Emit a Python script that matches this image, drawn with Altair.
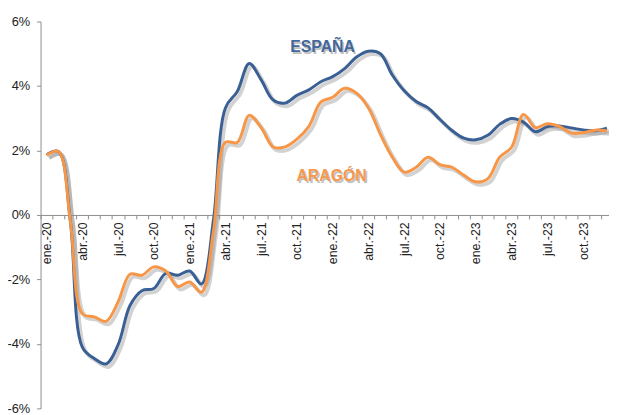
import altair as alt
import pandas as pd

meses_cortos = ["ene.", "feb.", "mar.", "abr.", "may.", "jun.", "jul.", "ago.", "sep.", "oct.", "nov.", "dic."]
anios = ["20", "21", "22", "23"]
meses = [f"{m}-{a}" for a in anios for m in meses_cortos]

espana = [1.87, 1.97, -0.2, -4.1, -4.45, -4.62, -4.03, -2.81, -2.35, -2.28, -1.81, -1.87,
          -1.74, -2.14, -0.15, 3.32, 3.83, 4.70, 4.19, 3.57, 3.47, 3.71, 3.88, 4.13,
          4.29, 4.54, 4.90, 5.08, 5.00, 4.34, 3.85, 3.52, 3.32, 2.96, 2.62, 2.38,
          2.33, 2.47, 2.81, 2.99, 2.88, 2.58, 2.74, 2.76, 2.70, 2.64, 2.61, 2.69]

aragon = [1.85, 1.97, -0.2, -3.06, -3.16, -3.30, -2.70, -1.84, -1.87, -1.61, -1.74, -2.22,
          -2.08, -2.40, -0.50, 2.25, 2.25, 3.09, 2.71, 2.11, 2.11, 2.35, 2.75, 3.50,
          3.65, 3.93, 3.78, 3.32, 2.50, 1.79, 1.33, 1.48, 1.79, 1.56, 1.48, 1.23,
          1.03, 1.12, 1.79, 2.10, 3.12, 2.71, 2.83, 2.75, 2.54, 2.55, 2.63, 2.61]

series = ["ESPAÑA", "ARAGÓN"]
colores = ["#3A5F94", "#F79646"]
colores_texto = ["#43679B", "#F7984D"]
etiqueta_x = [23.15, 23.9]
etiqueta_y = [5.2, 1.22]
y_ticks = [-6, -4, -2, 0, 2, 4, 6]

n = len(meses)
df = pd.DataFrame({
    "i": list(range(n)) * 2,
    "valor": espana + aragon,
    "serie": [series[0]] * n + [series[1]] * n,
})
df_lab = pd.DataFrame({"serie": series, "x": etiqueta_x, "y": etiqueta_y})

W, H = 576, 392
x_dom = [-0.5, 47.17]
half = W / (x_dom[1] - x_dom[0]) / 2

arr = "[" + ",".join(f"'{m}'" for m in meses) + "]"
label_expr = f"datum.value % 3 == 0 ? {arr}[datum.value] : ''"

FONT = "Liberation Sans"
x_scale = alt.Scale(domain=x_dom, nice=False, zero=False)
y_scale = alt.Scale(domain=[-6, 6], nice=False)
col_scale = alt.Scale(domain=series, range=colores)

x_axis = alt.Axis(values=list(range(n)), labelExpr=label_expr, labelAngle=270,
                  labelAlign="right", labelBaseline="middle", tickOffset=-half,
                  labelOffset=half, offset=-H / 2, grid=False, title=None,
                  domainColor="#8c8c8c", tickColor="#8c8c8c", tickSize=4,
                  labelPadding=3, labelFontSize=12.5, labelFont=FONT,
                  labelColor="#222222", labelOverlap=False, labelBound=False,
                  labelFlush=False)
y_axis = alt.Axis(values=y_ticks, labelExpr="datum.value + '%'", grid=False, title=None,
                  domainColor="#8c8c8c", tickColor="#8c8c8c", tickSize=4,
                  labelPadding=7, labelFontSize=13, labelFont=FONT,
                  labelColor="#222222", labelFlush=False, labelBound=False)

base = alt.Chart(df)

shadow = base.transform_calculate(
    xs="datum.i + 0.22", ys="datum.valor - 0.09"
).mark_line(interpolate="catmull-rom", strokeWidth=4, color="#8f8f8f", opacity=0.4).encode(
    x=alt.X("xs:Q", scale=x_scale, axis=x_axis),
    y=alt.Y("ys:Q", scale=y_scale, axis=y_axis),
    detail="serie:N",
)

lines = base.mark_line(interpolate="catmull-rom", strokeWidth=3).encode(
    x=alt.X("i:Q", scale=x_scale, axis=x_axis),
    y=alt.Y("valor:Q", scale=y_scale, axis=y_axis),
    color=alt.Color("serie:N", scale=col_scale, legend=None),
)

lab_base = alt.Chart(df_lab)
lab_shadow = lab_base.mark_text(font=FONT, fontWeight="bold", fontSize=16,
                                color="#999999", opacity=0.6, dx=1.5, dy=2).encode(
    x=alt.X("x:Q", scale=x_scale, axis=x_axis), y=alt.Y("y:Q", scale=y_scale, axis=y_axis),
    text="serie:N")
lab = lab_base.mark_text(font=FONT, fontWeight="bold", fontSize=16).encode(
    x=alt.X("x:Q", scale=x_scale, axis=x_axis), y=alt.Y("y:Q", scale=y_scale, axis=y_axis),
    text="serie:N",
    color=alt.Color("serie:N", scale=alt.Scale(domain=series, range=colores_texto), legend=None))

chart = alt.layer(shadow, lines, lab_shadow, lab).resolve_scale(color="independent").properties(
    width=W, height=H,
    autosize=alt.AutoSizeParams(type="none"),
    padding={"left": 33, "top": 11, "right": 0, "bottom": 4},
).configure_view(stroke=None)

chart.save("out.html", embed_options={"renderer": "svg", "actions": False})
